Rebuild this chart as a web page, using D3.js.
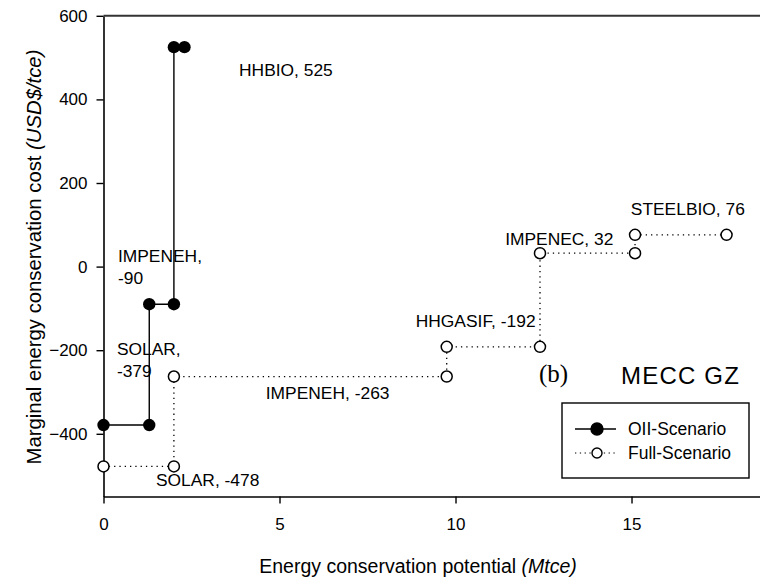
<!DOCTYPE html>
<html>
<head>
<meta charset="utf-8">
<script src="https://cdn.jsdelivr.net/npm/d3@7/dist/d3.min.js"></script>
<style>
  body{margin:0;background:#fff;}
  text{font-family:"Liberation Sans",Arial,sans-serif;fill:#000;}
</style>
</head>
<body>
<svg width="760" height="583"></svg>
<script>
// step data
const oilX=[0,1.3,1.3,2.0,2.0,2.3];
const oilY=[-379,-379,-90,-90,525,525];
const fullX=[0,2.0,2.0,9.75,9.75,12.4,12.4,15.1,15.1,17.7];
const fullY=[-478,-478,-263,-263,-192,-192,32,32,76,76];
const xTicks=[0,5,10,15];
const yTicks=[-400,-200,0,200,400,600];
const labelText=[["HHBIO, 525"],["IMPENEH,","-90"],["SOLAR,","-379"],["IMPENEH, -263"],
  ["HHGASIF, -192"],["IMPENEC, 32"],["STEELBIO, 76"],["SOLAR, -478"]];
const seriesNames=['OII-Scenario','Full-Scenario'];

const svg=d3.select('svg');
const width=+svg.attr('width');

const x=d3.scaleLinear().domain([0,18.65]).range([103.5,760]);
const y=d3.scaleLinear().domain([-550,600]).range([496.5,15.8]);

// axes
const xAxis=d3.axisBottom(x).tickValues(xTicks).tickSize(7).tickPadding(14).tickSizeOuter(0);
const gx=svg.append('g').attr('transform',`translate(0,${y(-550)})`).call(xAxis);
const yAxis=d3.axisLeft(y).tickValues(yTicks).tickSize(7).tickPadding(9).tickSizeOuter(0);
const gy=svg.append('g').attr('transform',`translate(${x(0)},0)`).call(yAxis);
[gx,gy].forEach(g=>{
  g.selectAll('path').attr('stroke','#000').attr('stroke-width',1.6);
  g.selectAll('line').attr('stroke','#000').attr('stroke-width',1.4);
  g.selectAll('text').style('font-size','17px').style('font-family','"Liberation Sans",Arial,sans-serif');
});
// top frame line
svg.append('line').attr('x1',x(0)).attr('x2',width).attr('y1',y(600)).attr('y2',y(600))
  .attr('stroke','#333').attr('stroke-width',2);

// axis titles
const xt=svg.append('text').attr('x',418).attr('y',573).attr('text-anchor','middle').style('font-size','19.5px');
xt.append('tspan').text('Energy conservation potential ');
xt.append('tspan').style('font-style','italic').text('(Mtce)');
const yt=svg.append('text').attr('transform','translate(41,257) rotate(-90)').attr('text-anchor','middle').style('font-size','20.3px');
yt.append('tspan').text('Marginal energy conservation cost ');
yt.append('tspan').style('font-style','italic').text('(USD$/tce)');

// series
const oil=oilX.map((d,i)=>[d,oilY[i]]);
const full=fullX.map((d,i)=>[d,fullY[i]]);
const line=d3.line().x(d=>x(d[0])).y(d=>y(d[1]));

svg.append('path').datum(full).attr('d',line).attr('fill','none')
  .attr('stroke','#000').attr('stroke-width',1.3).attr('stroke-dasharray','1.3,4');
svg.append('path').datum(oil).attr('d',line).attr('fill','none')
  .attr('stroke','#000').attr('stroke-width',1.4);

svg.selectAll('.full').data(full).enter().append('circle').attr('class','full')
  .attr('cx',d=>x(d[0])).attr('cy',d=>y(d[1])).attr('r',5.5)
  .attr('fill','#fff').attr('stroke','#000').attr('stroke-width',1.5);
svg.selectAll('.oil').data(oil).enter().append('circle').attr('class','oil')
  .attr('cx',d=>x(d[0])).attr('cy',d=>y(d[1])).attr('r',6.2).attr('fill','#000');

// point labels, anchored in data units
const labelAt=[[3.85,456],[0.41,11],[0.38,-211],[4.61,-317],[8.87,-144],[11.41,52],[14.98,123],[1.49,-526]];
labelText.forEach((lines,i)=>{
  const t=svg.append('text').attr('x',x(labelAt[i][0])).attr('y',y(labelAt[i][1])).style('font-size','17.4px');
  lines.forEach((s,j)=>t.append('tspan').attr('x',x(labelAt[i][0])).attr('dy',j? '1.26em':0).text(s));
});

svg.append('text').attr('x',539).attr('y',382).text('(b)')
  .style('font-family','"Liberation Serif","Times New Roman",serif').style('font-size','25px');
svg.append('text').attr('x',621).attr('y',384).text('MECC GZ').style('font-size','24px').style('letter-spacing','1.2px');

// legend
const lg=svg.append('g').attr('transform','translate(562,403)');
lg.append('rect').attr('width',187).attr('height',75).attr('fill','#fff').attr('stroke','#000').attr('stroke-width',1.4);
seriesNames.forEach((name,i)=>{
  const cy=26+i*24;
  lg.append('line').attr('x1',13).attr('x2',54).attr('y1',cy).attr('y2',cy).attr('stroke','#000')
    .attr('stroke-width',i?1.2:1.4).attr('stroke-dasharray',i?'1.3,3.5':null);
  lg.append('circle').attr('cx',35).attr('cy',cy).attr('r',i?5:6)
    .attr('fill',i?'#fff':'#000').attr('stroke','#000').attr('stroke-width',1.4);
  lg.append('text').attr('x',66).attr('y',cy).attr('dy','0.36em').style('font-size','17.5px').text(name);
});
</script>
</body>
</html>
